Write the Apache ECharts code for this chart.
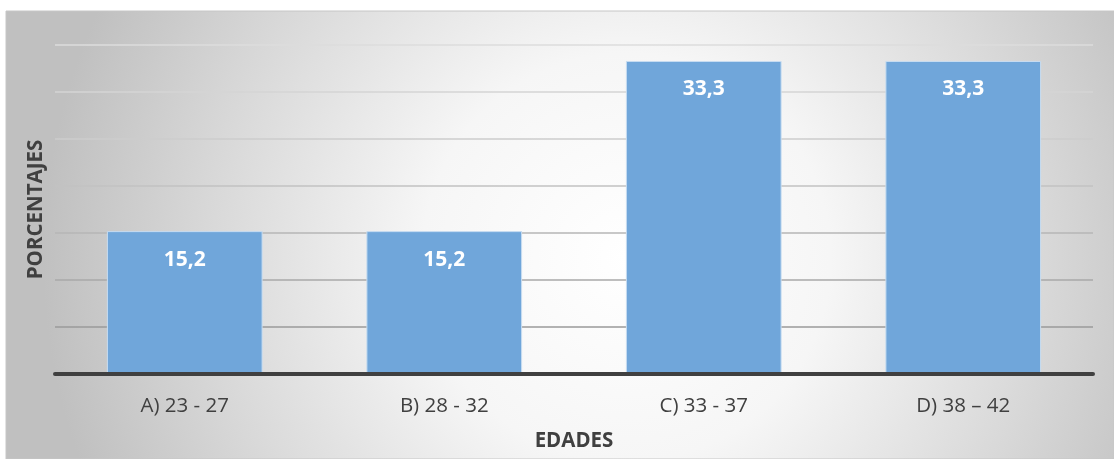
<!DOCTYPE html>
<html>
<head>
<meta charset="utf-8">
<script src="https://cdn.jsdelivr.net/npm/echarts@6/dist/echarts.min.js"></script>
<style>
  html, body { margin: 0; padding: 0; background: #ffffff; }
  #chart { width: 1114px; height: 459px; }
</style>
</head>
<body>
<div id="chart"></div>
<script>
// Age groups and the share of each one (%)
const categories = ['A) 23 - 27', 'B) 28 - 32', 'C) 33 - 37', 'D) 38 – 42'];
const percentages = [15.2, 15.2, 33.3, 33.3];

// Value axis range
const yMin = 0;
const yMax = 35;
const yStep = 5;

// Gridlines fade from darker near the base to lighter near the top
const gridColors = ['#8c8c8c', '#9a9a9a', '#a8a8a8', '#b6b6b6', '#c2c2c2', '#cccccc', '#d4d4d4', '#dcdcdc'];

const FONT = '"Open Sans", "Noto Sans", sans-serif';
const TEXT = '#404040';

const chart = echarts.init(document.getElementById('chart'), null, { renderer: 'canvas' });

chart.setOption({
  animation: false,
  backgroundColor: '#ffffff',
  graphic: [{
    type: 'rect',
    z: -10,
    silent: true,
    shape: { x: 6, y: 11, width: 1108, height: 448 },
    style: {
      fill: new echarts.graphic.RadialGradient(0.56, 0.55, 1.3, [
        { offset: 0, color: '#ffffff' },
        { offset: 0.35, color: '#f6f6f6' },
        { offset: 0.72, color: '#d8d8d8' },
        { offset: 1, color: '#c0c0c0' }
      ]),
      stroke: '#c6c6c6',
      lineWidth: 1
    }
  }],
  grid: { left: 55, right: 21, top: 45, bottom: 85, containLabel: false },
  xAxis: {
    type: 'category',
    data: categories,
    name: 'EDADES',
    nameLocation: 'middle',
    nameGap: 57,
    nameTextStyle: { fontFamily: FONT, fontSize: 20.5, fontWeight: 'bold', color: TEXT },
    axisLine: { lineStyle: { color: '#404040', width: 4 } },
    axisTick: { show: false },
    axisLabel: { fontFamily: FONT, fontSize: 20.5, color: TEXT, margin: 22 },
    z: 5
  },
  yAxis: {
    type: 'value',
    min: yMin,
    max: yMax,
    interval: yStep,
    name: 'PORCENTAJES',
    nameLocation: 'middle',
    nameRotate: 90,
    nameGap: 8,
    nameTextStyle: { fontFamily: FONT, fontSize: 20.5, fontWeight: 'bold', color: TEXT },
    axisLine: { show: false },
    axisTick: { show: false },
    axisLabel: { show: false },
    splitLine: { lineStyle: { color: gridColors, width: 1.5 } }
  },
  series: [{
    type: 'bar',
    data: percentages,
    barWidth: '60%',
    itemStyle: { color: '#70a6da', borderColor: '#c8ddf1', borderWidth: 1 },
    label: {
      show: true,
      position: 'insideTop',
      distance: 18,
      fontFamily: FONT,
      fontSize: 21,
      fontWeight: 'bold',
      color: '#ffffff',
      formatter: p => p.value.toFixed(1).replace('.', ',')
    }
  }]
});
</script>
</body>
</html>
